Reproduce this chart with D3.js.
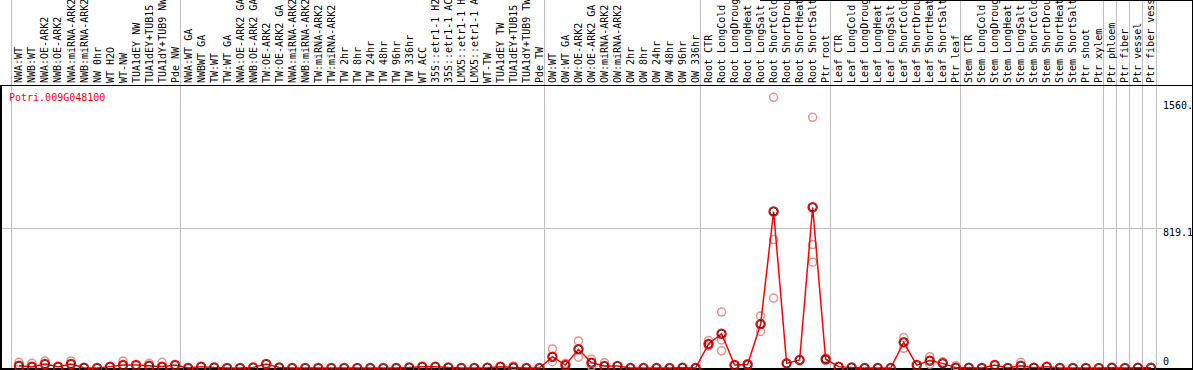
<!DOCTYPE html>
<meta charset="utf-8">
<script src="https://d3js.org/d3.v7.min.js"></script>
<style>
body { margin: 0; background: #fff; }
text { font-family: "DejaVu Sans Mono", monospace; font-size: 10px; }
.grid { stroke: #c0c0c0; stroke-width: 1px; shape-rendering: crispEdges; }
.frame { stroke: #000; fill: none; shape-rendering: crispEdges; }
.line { fill: none; stroke: #f00; stroke-width: 1.5px; }
</style>
<body>
<script>

// sample labels, one per column
var labels = ["NWA:WT","NWB:WT","NWA:OE-ARK2","NWB:OE-ARK2","NWA:miRNA-ARK2","NWB:miRNA-ARK2",
  "NW 0hr","WT H2O","WT-NW","TUA1dEY NW","TUA1dEY+TUB15","TUA1dY+TUB9 NW","Pde NW",
  "NWA:WT GA","NWBWT GA","TW:WT","TW:WT GA","NWA:OE-ARK2 GA","NWB:OE-ARK2 GA","TW:OE-ARK2",
  "TW:OE-ARK2 GA","NWA:miRNA-ARK2","NWB:miRNA-ARK2","TW:miRNA-ARK2","TW:miRNA-ARK2",
  "TW 2hr","TW 8hr","TW 24hr","TW 48hr","TW 96hr","TW 336hr","WT ACC",
  "35S::etr1-1 H2O","35S::etr1-1 ACC","LMX5::etr1-1 H2O","LMX5::etr1-1 ACC","WT-TW",
  "TUA1dEY TW","TUA1dEY+TUB15","TUA1dY+TUB9 TW","Pde TW",
  "OW:WT","OW:WT GA","OW:OE-ARK2","OW:OE-ARK2 GA","OW:miRNA-ARK2","OW:miRNA-ARK2",
  "OW 2hr","OW 8hr","OW 24hr","OW 48hr","OW 96hr","OW 336hr",
  "Root CTR","Root LongCold","Root LongDrought","Root LongHeat","Root LongSalt",
  "Root ShortCold","Root ShortDrought","Root ShortHeat","Root ShortSalt","Ptr root",
  "Leaf CTR","Leaf LongCold","Leaf LongDrought","Leaf LongHeat","Leaf LongSalt",
  "Leaf ShortCold","Leaf ShortDrought","Leaf ShortHeat","Leaf ShortSalt","Ptr leaf",
  "Stem CTR","Stem LongCold","Stem LongDrought","Stem LongHeat","Stem LongSalt",
  "Stem ShortCold","Stem ShortDrought","Stem ShortHeat","Stem ShortSalt","Ptr shoot","Ptr xylem",
  "Ptr phloem","Ptr fiber","Ptr vessel","Ptr fiber vessel"];

// mean expression per column
var means = [13,8,23,8,23,2,0,8,17,17,13,8,17,
  0,8,3,0,0,3,23,3,0,0,0,0,0,0,0,0,0,3,8,8,3,0,0,2,8,3,0,0,
  66,17,109,31,12,12,0,0,0,0,2,0,
  140,200,18,20,256,913,27,47,938,51,
  8,3,0,0,0,150,17,43,27,2,
  2,0,17,0,13,2,8,0,0,0,0,
  2,0,2,1];

// replicate values that stand apart from the mean: [column, value]
var reps = [[0,33],[1,27],[2,41],[4,41],[8,41],[10,27],[11,33],[38,12],
  [41,111],[41,37],[42,27],[43,158],[43,63],[44,51],[44,12],[45,31],
  [53,160],[53,129],[54,326],[54,164],[54,100],[56,25],[57,304],[57,213],
  [58,1579],[58,749],[58,408],[61,1462],[61,720],[61,617],[62,58],[62,45],
  [68,178],[68,115],[70,66],[70,22],[71,37],[72,13],[77,33]];

// first column of each group (last entry = end)
var groupStarts = [0,13,41,53,63,73,84,85,86,87,88];

var yTicks = [1560, 819.1, 0];
var yTickLabels = ["1560.", "819.1", "0"];
var gene = "Potri.009G048100";

var W = 1194, H = 370;
var plotTop = 86, plotBottom = 368;

var svg = d3.select("body").append("svg")
    .attr("width", W).attr("height", H);

var x = d3.scaleLinear().domain([0, 88]).range([10.5, 1155.5]);
var y = d3.scaleLinear().domain([0, 1645]).range([plotBottom, plotTop]);
function cx(i) { return x(i + 0.65); }

// group separators
svg.selectAll(".vg").data(groupStarts).enter().append("line")
    .attr("class", "grid")
    .attr("x1", function(d) { return Math.round(x(d)) + 0.5; })
    .attr("x2", function(d) { return Math.round(x(d)) + 0.5; })
    .attr("y1", 0).attr("y2", plotBottom);

// middle gridline
svg.append("line").attr("class", "grid")
    .attr("x1", 1).attr("x2", 1162)
    .attr("y1", Math.round(y(819.1)) + 0.5).attr("y2", Math.round(y(819.1)) + 0.5);

// column labels
svg.selectAll(".lab").data(labels).enter().append("text")
    .attr("transform", function(d, i) { return "translate(" + (cx(i) + 3.5) + ",83) rotate(-90)"; })
    .text(function(d) { return d; });

// frame
svg.append("line").attr("class", "frame").attr("stroke-width", 1)
    .attr("x1", 0).attr("x2", 1193).attr("y1", 85.5).attr("y2", 85.5);
svg.append("line").attr("class", "frame").attr("stroke-width", 2)
    .attr("x1", 1).attr("x2", 1).attr("y1", 85).attr("y2", 370);
svg.append("line").attr("class", "frame").attr("stroke-width", 2)
    .attr("x1", 0).attr("x2", 1193).attr("y1", 369).attr("y2", 369);
svg.append("line").attr("class", "frame").attr("stroke-width", 1)
    .attr("x1", 1192.5).attr("x2", 1192.5).attr("y1", 0).attr("y2", 370);
svg.append("line").attr("class", "frame").attr("stroke-width", 1)
    .attr("x1", 760).attr("x2", 1193).attr("y1", 0.5).attr("y2", 0.5);

// y labels
svg.selectAll(".yl").data(yTicks).enter().append("text")
    .attr("x", 1163)
    .attr("y", function(d) { return d === 0 ? 365 : y(d) + 8.5; })
    .text(function(d, i) { return yTickLabels[i]; });

// title
svg.append("text").attr("x", 9).attr("y", 101).attr("fill", "#f00").text(gene);

var plot = svg.append("g");

// replicates
plot.selectAll(".rep").data(reps).enter().append("circle")
    .attr("cx", function(d) { return cx(d[0]); })
    .attr("cy", function(d) { return y(d[1]); })
    .attr("r", 4)
    .attr("fill", "none").attr("stroke", "#ec9090").attr("stroke-width", 1.5);

// mean line
var line = d3.line()
    .x(function(d, i) { return cx(i); })
    .y(function(d) { return y(d); });
plot.append("path").datum(means).attr("class", "line").attr("d", line);

// mean markers
plot.selectAll(".mean").data(means).enter().append("circle")
    .attr("cx", function(d, i) { return cx(i); })
    .attr("cy", function(d) { return y(d); })
    .attr("r", 4.5)
    .attr("fill", "none").attr("stroke", "#f00").attr("stroke-width", 1.5);
plot.selectAll(".meanIn").data(means).enter().append("circle")
    .attr("cx", function(d, i) { return cx(i); })
    .attr("cy", function(d) { return y(d); })
    .attr("r", 3.6)
    .attr("fill", "none").attr("stroke", "#000").attr("stroke-width", 0.8);

</script>
</body>
